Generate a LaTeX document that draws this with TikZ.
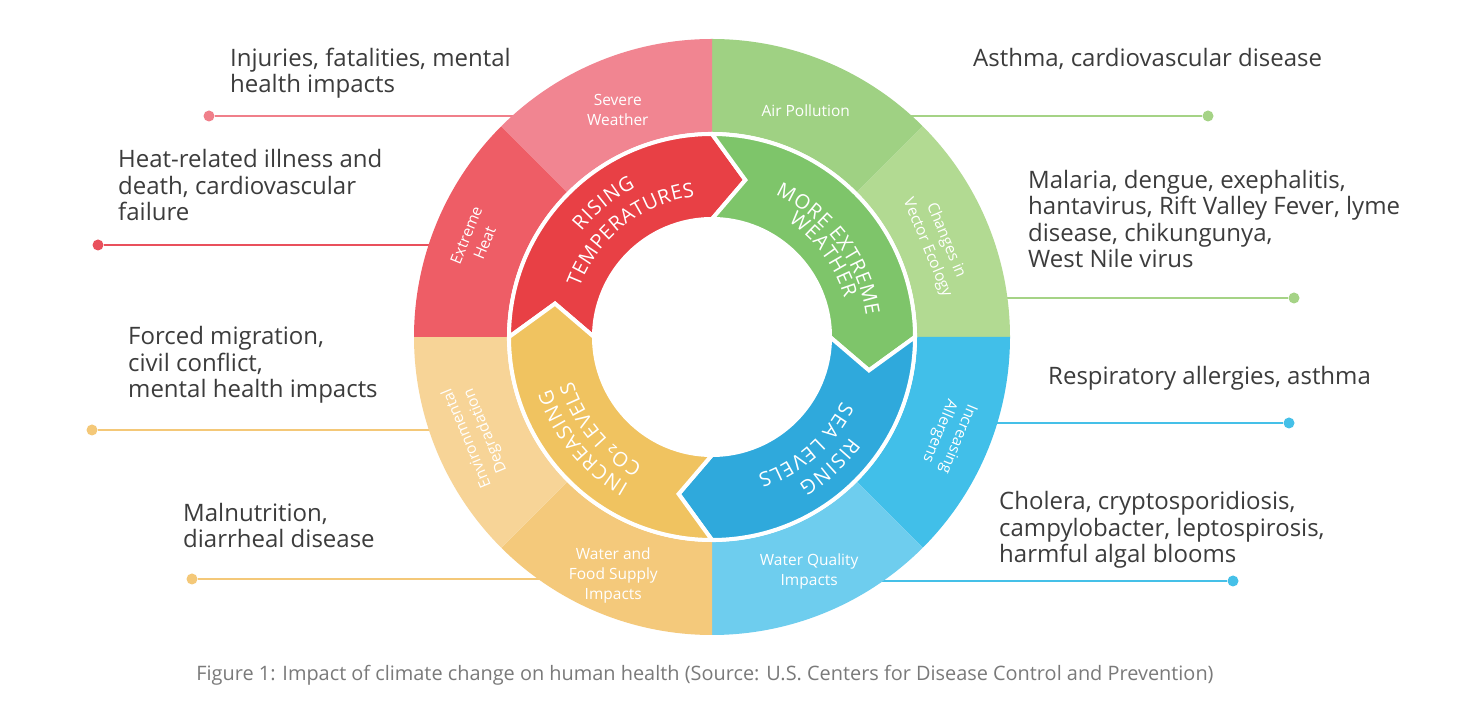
\documentclass[tikz,border=0pt]{standalone}
\usepackage{fontspec}
\setmainfont{Open Sans}
\newfontfamily\subfnt{DejaVu Sans}
\usetikzlibrary{decorations.text}
\newcommand\arrfont{\fontsize{20}{20}\selectfont}
\definecolor{txt}{HTML}{3C3C3C}
\definecolor{capt}{HTML}{7A7A7A}
\definecolor{sevW}{HTML}{F18591}
\definecolor{heat}{HTML}{EE5D66}
\definecolor{airP}{HTML}{9FD183}
\definecolor{vecE}{HTML}{B2DA92}
\definecolor{allg}{HTML}{41BFE9}
\definecolor{watQ}{HTML}{6ECDEE}
\definecolor{food}{HTML}{F4C97B}
\definecolor{envD}{HTML}{F7D497}
\definecolor{arrR}{HTML}{E84045}
\definecolor{arrG}{HTML}{7EC56A}
\definecolor{arrB}{HTML}{2FA9DC}
\definecolor{arrY}{HTML}{F0C360}
\definecolor{lnPink}{HTML}{F07F8A}
\definecolor{lnRed}{HTML}{E9505C}
\definecolor{lnYel}{HTML}{F4C878}
\definecolor{lnGrn}{HTML}{A5D386}
\definecolor{lnBlu}{HTML}{45C0E8}
\begin{document}
\begin{tikzpicture}[x=1pt,y=1pt,
  desc/.style={font=\fontsize{24}{26.5}\selectfont, text=txt, align=left, anchor=base west, inner sep=0pt},
  seglab/.style={font=\fontsize{15.5}{20}\selectfont, text=white, align=center, inner sep=0pt},
  dot/.style={circle, fill=#1, inner sep=0pt, minimum size=11pt},
  conn/.style={draw=#1, line width=2pt},
  arrtext/.style={decorate, decoration={text along path, text={|\arrfont|#1}, text align={fit to path}, text color=white}},
]
\useasboundingbox (0,0) rectangle (1460,720);
\fill[white] (0,0) rectangle (1460,720);

% connectors (drawn under the ring)
\node[dot=lnPink] (dSev) at (209,604) {};
\coordinate (rSev) at (520,604);
\node[dot=lnRed] (dHeat) at (98,475) {};
\coordinate (rHeat) at (435,475);
\node[dot=lnYel] (dEnv) at (92,290) {};
\coordinate (rEnv) at (435,290);
\node[dot=lnYel] (dFood) at (192,141) {};
\coordinate (rFood) at (545,141);
\node[dot=lnGrn] (dAir) at (1208,604) {};
\coordinate (rAir) at (905,604);
\node[dot=lnGrn] (dVec) at (1294,422) {};
\coordinate (rVec) at (1000,422);
\node[dot=lnBlu] (dAll) at (1289,297) {};
\coordinate (rAll) at (990,297);
\node[dot=lnBlu] (dWQ) at (1233,139) {};
\coordinate (rWQ) at (876,139);
\draw[conn=lnPink] (dSev) -- (rSev);
\draw[conn=lnRed] (dHeat) -- (rHeat);
\draw[conn=lnYel] (dEnv) -- (rEnv);
\draw[conn=lnYel] (dFood) -- (rFood);
\draw[conn=lnGrn] (dAir) -- (rAir);
\draw[conn=lnGrn] (dVec) -- (rVec);
\draw[conn=lnBlu] (dAll) -- (rAll);
\draw[conn=lnBlu] (dWQ) -- (rWQ);

\begin{scope}[shift={(712,383)}]
  % outer ring
  \foreach \a/\b/\c in {45/90/airP, 0/45/vecE, -45/0/allg, -90/-45/watQ, -135/-90/food, 180/225/envD, 135/180/heat, 90/135/sevW}
    \fill[\c] (\a:205pt) -- (\a:298pt) arc[start angle=\a, end angle=\b, radius=298pt] -- (\b:205pt) arc[start angle=\b, end angle=\a, radius=205pt] -- cycle;
  % inner arrows
  \foreach \a/\b/\t/\n/\c in {180/90/78/168/arrR, 90/0/-12/78/arrG, 0/-90/-102/-12/arrB, -90/-180/-192/-102/arrY}
    \filldraw[fill=\c, draw=white, line width=4pt, line join=miter]
      (\a:203pt) arc[start angle=\a, end angle=\b, radius=203pt] -- (\t:160.5pt) -- (\b:118pt)
      arc[start angle=\b, end angle=\a, radius=118pt] -- (\n:160.5pt) -- cycle;

  % outer labels
  \node[seglab] (lSev) at (112.5:246pt) {Severe\\Weather};
  \node[seglab] (lAir) at (67.5:245pt) {Air Pollution};
  \node[seglab, rotate=-67.5] (lVec) at (22.5:243pt) {Changes in\\Vector Ecology};
  \node[seglab, rotate=-112.5] (lAll) at (-22.5:256pt) {Increasing\\Allergens};
  \node[seglab] (lWQ) at (-67.5:254pt) {Water Quality\\Impacts};
  \node[seglab] (lWF) at (-112.5:258pt) {Water and\\Food Supply\\Impacts};
  \node[seglab, rotate=112.5] (lEnv) at (202.5:255pt) {Environmental\\Degradation};
  \node[seglab, rotate=67.5] (lHeat) at (157.5:256pt) {Extreme\\Heat};

  % arrow labels, set along arcs
  \path[arrtext={RISING}] (141:168pt) arc[start angle=141, end angle=117, radius=168pt];
  \path[arrtext={TEMPERATURES}] (159.5:141.5pt) arc[start angle=159.5, end angle=97, radius=141.5pt];
  \path[arrtext={MORE EXTREME}] (66:155.5pt) arc[start angle=66, end angle=8, radius=155.5pt];
  \path[arrtext={WEATHER}] (56.5:138pt) arc[start angle=56.5, end angle=16.5, radius=138pt];
  \path[arrtext={RISING}] (-36:170.5pt) arc[start angle=-36, end angle=-59.5, radius=170.5pt];
  \path[arrtext={SEA LEVELS}] (-26.5:145pt) arc[start angle=-26.5, end angle=-71.7, radius=145pt];
  \path[arrtext={INCREASING}] (240.5:169pt) arc[start angle=240.5, end angle=198, radius=169pt];
  \path[arrtext={CO|\subfnt\fontsize{20}{20}\selectfont|₂|\arrfont| LEVELS}] (241.5:146pt) arc[start angle=241.5, end angle=197.5, radius=146pt];
\end{scope}

% descriptions (anchored at the baseline of their last line)
\node[desc] (xSev) at (230,627) {Injuries, fatalities, mental\\health impacts};
\node[desc] (xHeat) at (118,499) {Heat-related illness and\\death, cardiovascular\\failure};
\node[desc] (xEnv) at (128,322) {Forced migration,\\civil conflict,\\mental health impacts};
\node[desc] (xFood) at (183,172) {Malnutrition,\\diarrheal disease};
\node[desc] (xAir) at (973,653) {Asthma, cardiovascular disease};
\node[desc] (xVec) at (1028,452) {Malaria, dengue, exephalitis,\\hantavirus, Rift Valley Fever, lyme\\disease, chikungunya,\\West Nile virus};
\node[desc] (xAll) at (1048,335) {Respiratory allergies, asthma};
\node[desc] (xWQ) at (999,157) {Cholera, cryptosporidiosis,\\campylobacter, leptospirosis,\\harmful algal blooms};

% caption
\node[font=\fontsize{19.9}{23}\selectfont, text=capt, anchor=base, inner sep=0pt] (cap) at (705,39)
  {Figure 1: Impact of climate change on human health (Source: U.S. Centers for Disease Control and Prevention)};
\end{tikzpicture}
\end{document}
